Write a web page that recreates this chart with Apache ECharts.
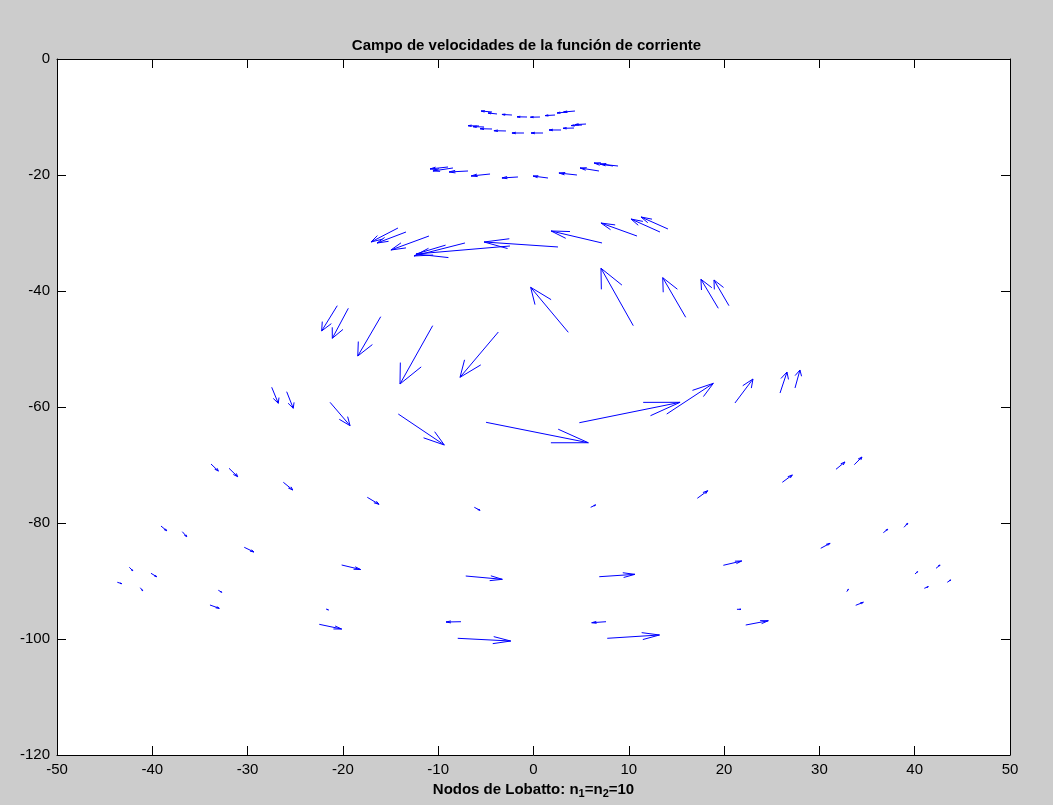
<!DOCTYPE html>
<html>
<head>
<meta charset="utf-8">
<script src="https://cdn.jsdelivr.net/npm/echarts@6/dist/echarts.min.js"></script>
<style>
html,body{margin:0;padding:0;background:#cccccc;}
#chart{width:1053px;height:805px;}
</style>
</head>
<body>
<div id="chart"></div>
<script>
// Axis ticks
const xTicks = [-50, -40, -30, -20, -10, 0, 10, 20, 30, 40, 50];
const yTicks = [-120, -100, -80, -60, -40, -20, 0];

// Arrow tails (data units), row by row (arcs from top to bottom)
const tailX = [
  -4.35,-3.83,-2.26,-0.68,0.68,2.26,3.52,4.35,
  -5.72,-5.19,-4.35,-2.89,-1.00,1.00,2.89,4.25,5.09,5.51,
  -8.97,-8.45,-6.87,-4.56,-1.63,1.52,4.56,6.87,8.34,8.87,
  -14.22,-13.38,-10.97,-7.19,-2.47,2.57,7.19,10.86,13.27,14.11,
  -20.59,-19.43,-16.03,-10.58,-3.69,3.65,10.47,15.97,19.39,20.51,
  -27.47,-25.90,-21.35,-14.19,-4.98,4.81,13.98,21.14,25.87,27.44,
  -33.84,-31.95,-26.25,-17.44,-6.21,6.00,17.19,26.11,31.74,33.66,
  -39.09,-36.85,-30.35,-20.13,-7.11,6.90,19.92,30.14,36.71,38.88,
  -43.67,-41.26,-33.07,-21.77,-7.61,7.61,21.35,32.87,41.01,43.42,
  -42.41,-40.14,-33.95,-22.48,-7.95,7.74,22.27,33.81,40.03,42.24
];
const tailY = [
  -9.14,-9.48,-9.66,-10.00,-10.00,-9.66,-9.14,-8.97,
  -11.55,-11.72,-12.07,-12.41,-12.76,-12.76,-12.24,-11.90,-11.38,-11.21,
  -18.62,-18.79,-19.31,-19.83,-20.34,-20.52,-20.00,-19.31,-18.45,-18.45,
  -29.14,-29.83,-30.52,-31.72,-32.24,-32.41,-31.72,-30.52,-29.83,-29.31,
  -42.53,-42.98,-44.43,-45.98,-47.07,-47.12,-45.98,-44.53,-42.98,-42.53,
  -56.60,-57.36,-59.19,-61.21,-62.64,-62.71,-61.21,-59.31,-57.59,-56.72,
  -69.83,-70.57,-72.98,-75.57,-77.29,-77.29,-75.74,-72.98,-70.74,-69.95,
  -80.52,-81.50,-84.19,-87.24,-89.14,-89.26,-87.29,-84.36,-81.67,-80.74,
  -90.22,-91.16,-91.60,-94.83,-97.02,-97.02,-94.88,-91.84,-91.26,-90.22,
  -87.64,-88.67,-94.14,-97.47,-99.88,-99.88,-97.59,-94.19,-88.79,-87.81
];
// Drawn arrow components (data units)
const velU = [
  -1.15,-0.94,-1.05,-1.05,-1.00,-1.05,-1.05,-1.20,
  -1.15,-1.15,-1.26,-1.26,-1.26,-1.26,-1.26,-1.15,-1.15,-1.15,
  -1.89,-2.10,-1.99,-1.99,-1.68,-1.57,-1.89,-1.99,-1.99,-1.89,
  -2.83,-3.04,-3.99,-5.35,-9.86,-7.76,-5.35,-3.78,-3.04,-2.83,
  -1.64,-1.68,-2.41,-3.43,-4.02,-3.95,-3.39,-2.41,-1.82,-1.57,
  0.69,0.69,2.10,4.83,10.73,10.57,4.89,1.89,0.73,0.52,
  0.77,0.91,0.99,1.23,0.60,0.52,1.09,1.05,0.94,0.81,
  0.60,0.46,1.02,1.99,3.84,3.75,1.93,0.98,0.46,0.39,
  0.46,0.25,0.36,0.25,-1.57,-1.50,0.42,0.17,0.42,0.36,
  0.36,0.60,0.98,2.35,5.56,5.48,2.37,0.80,0.28,0.42
];
const velV = [
  0.17,0.17,0.10,0.03,-0.03,-0.10,-0.17,-0.17,
  0.05,0.05,0.05,0.05,0.00,0.00,0.00,-0.05,-0.10,-0.10,
  -0.34,-0.52,-0.17,-0.34,-0.17,0.34,0.34,0.52,0.52,0.34,
  -2.41,-1.90,-2.41,-2.24,-1.38,0.86,2.07,2.24,2.24,2.07,
  -4.36,-5.17,-6.78,-10.05,-7.81,7.76,9.90,6.83,5.00,4.43,
  -2.76,-2.86,-4.03,-5.34,-3.52,3.52,5.29,4.14,3.62,3.10,
  -1.21,-1.45,-1.33,-1.21,-0.52,0.40,1.31,1.26,1.26,1.33,
  -0.81,-0.86,-0.81,-0.78,-0.57,0.41,0.74,0.86,0.59,0.69,
  -0.24,-0.52,-0.34,-0.15,-0.05,-0.17,0.00,0.41,0.28,0.40,
  -0.59,-0.59,-0.57,-0.81,-0.47,0.57,0.74,0.52,0.40,0.57
];

const arrows = tailX.map((x, i) => [x, tailY[i], velU[i], velV[i]]);

const FONT = '"Liberation Sans", Arial, Helvetica, sans-serif';
const ALPHA = 0.33, BETA = 0.33;

const chart = echarts.init(document.getElementById('chart'), null, {renderer: 'canvas'});

function renderArrow(params, api) {
  const x = api.value(0), y = api.value(1), u = api.value(2), v = api.value(3);
  const tip = [x + u, y + v];
  const p0 = api.coord([x, y]);
  const p1 = api.coord(tip);
  const b1 = api.coord([tip[0] - ALPHA * (u + BETA * v), tip[1] - ALPHA * (v - BETA * u)]);
  const b2 = api.coord([tip[0] - ALPHA * (u - BETA * v), tip[1] - ALPHA * (v + BETA * u)]);
  const style = {stroke: '#0000ff', lineWidth: 1, fill: null};
  return {
    type: 'group',
    children: [
      {type: 'polyline', shape: {points: [p0, p1]}, style: style},
      {type: 'polyline', shape: {points: [b1, p1, b2]}, style: style}
    ]
  };
}

const tickStyle = {show: true, inside: true, length: 9, lineStyle: {color: '#000', width: 1}};
const lineStyle = {show: true, onZero: false, lineStyle: {color: '#000', width: 1}};

chart.setOption({
  backgroundColor: '#cccccc',
  animation: false,
  title: {
    text: 'Campo de velocidades de la función de corriente',
    left: 'center',
    top: 33,
    textStyle: {fontFamily: FONT, fontSize: 15, fontWeight: 'bold', color: '#000'}
  },
  grid: {left: 57, right: 43, top: 59, bottom: 50, show: true, backgroundColor: '#ffffff', borderWidth: 0},
  xAxis: [
    {
      type: 'value', min: xTicks[0], max: xTicks[xTicks.length - 1], interval: 10,
      position: 'bottom',
      axisLine: lineStyle, axisTick: tickStyle, splitLine: {show: false},
      axisLabel: {show: true, margin: 7, color: '#000', fontFamily: FONT, fontSize: 15},
      name: '{b|Nodos de Lobatto: n}{s|1}{b|=n}{s|2}{b|=10}',
      nameLocation: 'middle', nameGap: 24,
      nameTextStyle: {
        rich: {
          b: {fontFamily: FONT, fontSize: 15, fontWeight: 'bold', color: '#000', lineHeight: 19, verticalAlign: 'top'},
          s: {fontFamily: FONT, fontSize: 11, fontWeight: 'bold', color: '#000', lineHeight: 19, padding: [7, 0, 0, 0], verticalAlign: 'top'}
        }
      }
    },
    {
      type: 'value', min: xTicks[0], max: xTicks[xTicks.length - 1], interval: 10,
      position: 'top',
      axisLine: lineStyle, axisTick: tickStyle, splitLine: {show: false},
      axisLabel: {show: false}
    }
  ],
  yAxis: [
    {
      type: 'value', min: yTicks[0], max: yTicks[yTicks.length - 1], interval: 20,
      position: 'left',
      axisLine: lineStyle, axisTick: tickStyle, splitLine: {show: false},
      axisLabel: {show: true, margin: 7, color: '#000', fontFamily: FONT, fontSize: 15}
    },
    {
      type: 'value', min: yTicks[0], max: yTicks[yTicks.length - 1], interval: 20,
      position: 'right',
      axisLine: lineStyle, axisTick: tickStyle, splitLine: {show: false},
      axisLabel: {show: false}
    }
  ],
  series: [
    {
      type: 'custom',
      xAxisIndex: 0,
      yAxisIndex: 0,
      renderItem: renderArrow,
      data: arrows,
      encode: {x: [0], y: [1]},
      clip: false,
      silent: true
    }
  ]
});
</script>
</body>
</html>
